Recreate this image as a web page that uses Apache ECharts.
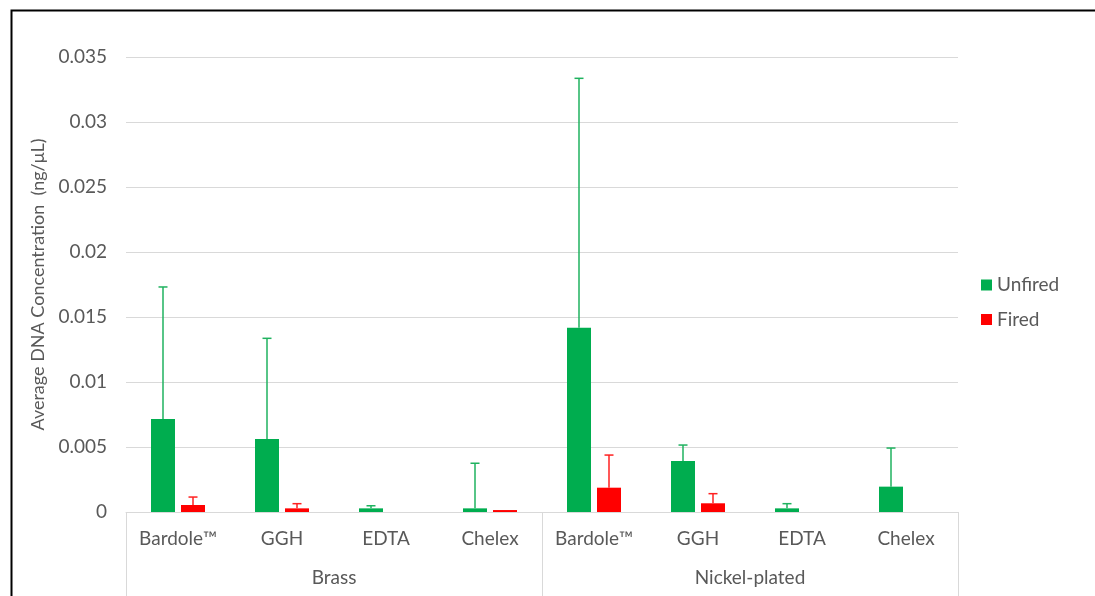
<!DOCTYPE html>
<html>
<head>
<meta charset="utf-8">
<script src="https://cdn.jsdelivr.net/npm/echarts@6/dist/echarts.min.js"></script>
<style>
  html, body { margin: 0; padding: 0; background: #fff; }
  #chart { width: 1095px; height: 596px; }
</style>
</head>
<body>
<div id="chart"></div>
<script>
// Extraction method (sub-category) and cartridge casing type (group)
const categories = ['Bardole™', 'GGH', 'EDTA', 'Chelex', 'Bardole™', 'GGH', 'EDTA', 'Chelex'];
const groups = ['Brass', 'Nickel-plated'];

// Mean DNA concentration (ng/µL) and the upper error (+SD)
const unfired    = [0.00715, 0.00562, 0.00028, 0.00028, 0.01418, 0.00392, 0.00028, 0.00195];
const unfiredErr = [0.01016, 0.00774, 0.00020, 0.00347, 0.01918, 0.00123, 0.00036, 0.00297];
const fired      = [0.00054, 0.00028, 0, 0.00015, 0.00187, 0.00067, 0, 0];
const firedErr   = [0.00061, 0.00036, 0, 0, 0.00251, 0.00074, 0, 0];

const yTicks = [0, 0.005, 0.01, 0.015, 0.02, 0.025, 0.03, 0.035];

const GREEN = '#00ad4f';
const GREEN_ERR = '#1fb25f';
const RED = '#ff0000';
const RED_ERR = '#ff2020';
const TEXT = '#595959';
const FONT = 'Lato, "Open Sans", sans-serif';
const FS = 19;
const BAR_W = 24;
const BAR_GAP = 0.25;
const HALF_STEP = (BAR_W + BAR_W * BAR_GAP) / 2;

function errorSeries(means, errs, offset, color) {
  return {
    type: 'custom',
    xAxisIndex: 0,
    yAxisIndex: 0,
    silent: true,
    z: 5,
    encode: { x: 0, y: 1 },
    data: means.map((m, i) => [i, m, errs[i]]),
    renderItem(params, api) {
      const mean = api.value(1);
      const err = api.value(2);
      if (!err) return null;
      const base = api.coord([api.value(0), mean]);
      const top = api.coord([api.value(0), mean + err]);
      const x = base[0] + offset;
      const style = { stroke: color, lineWidth: 1.5 };
      return {
        type: 'group',
        children: [
          { type: 'line', shape: { x1: x, y1: base[1], x2: x, y2: top[1] }, style },
          { type: 'line', shape: { x1: x - 4.5, y1: top[1], x2: x + 4.5, y2: top[1] }, style }
        ]
      };
    }
  };
}

const chart = echarts.init(document.getElementById('chart'), null, { renderer: 'canvas' });

chart.setOption({
  backgroundColor: '#ffffff',
  animation: false,
  textStyle: { fontFamily: FONT },
  graphic: [{
    type: 'rect',
    left: 9, top: 8,
    shape: { width: 1200, height: 700 },
    style: { fill: null, stroke: '#000', lineWidth: 2 },
    silent: true,
    z: 100
  }],
  grid: { left: 126, right: 137, top: 57, bottom: 84 },
  legend: {
    orient: 'vertical',
    left: 976,
    top: 270,
    itemWidth: 11,
    itemHeight: 11,
    itemGap: 14.5,
    icon: 'rect',
    data: ['Unfired', 'Fired'],
    textStyle: { color: TEXT, fontSize: FS, lineHeight: 20, fontFamily: FONT }
  },
  xAxis: [
    {
      type: 'category',
      data: categories,
      position: 'bottom',
      axisLine: { show: true, lineStyle: { color: '#d9d9d9', width: 1 } },
      axisTick: { show: false },
      axisLabel: { interval: 0, margin: 17, color: TEXT, fontSize: FS, fontFamily: FONT },
      splitLine: { show: false }
    },
    {
      type: 'category',
      data: groups,
      position: 'bottom',
      axisLine: { show: false },
      axisTick: { show: true, length: 84, lineStyle: { color: '#d9d9d9', width: 1 } },
      axisLabel: { interval: 0, margin: 56, color: TEXT, fontSize: FS, fontFamily: FONT },
      splitLine: { show: false }
    }
  ],
  yAxis: {
    type: 'value',
    min: yTicks[0],
    max: yTicks[yTicks.length - 1],
    interval: yTicks[1] - yTicks[0],
    name: 'Average DNA Concentration  (ng/μL)',
    nameLocation: 'middle',
    nameRotate: 90,
    nameGap: 70,
    nameTextStyle: { color: TEXT, fontSize: 18, fontFamily: FONT },
    axisLine: { show: false },
    axisTick: { show: false },
    axisLabel: {
      margin: 19,
      color: TEXT,
      fontSize: FS,
      fontFamily: FONT,
      formatter: v => String(parseFloat(v.toFixed(3)))
    },
    splitLine: { lineStyle: { color: '#d9d9d9', width: 1 } }
  },
  series: [
    {
      name: 'Unfired',
      type: 'bar',
      barWidth: BAR_W,
      barGap: (BAR_GAP * 100) + '%',
      itemStyle: { color: GREEN },
      data: unfired
    },
    {
      name: 'Fired',
      type: 'bar',
      barWidth: BAR_W,
      barGap: (BAR_GAP * 100) + '%',
      itemStyle: { color: RED },
      data: fired
    },
    errorSeries(unfired, unfiredErr, -HALF_STEP, GREEN_ERR),
    errorSeries(fired, firedErr, HALF_STEP, RED_ERR)
  ]
});
</script>
</body>
</html>
